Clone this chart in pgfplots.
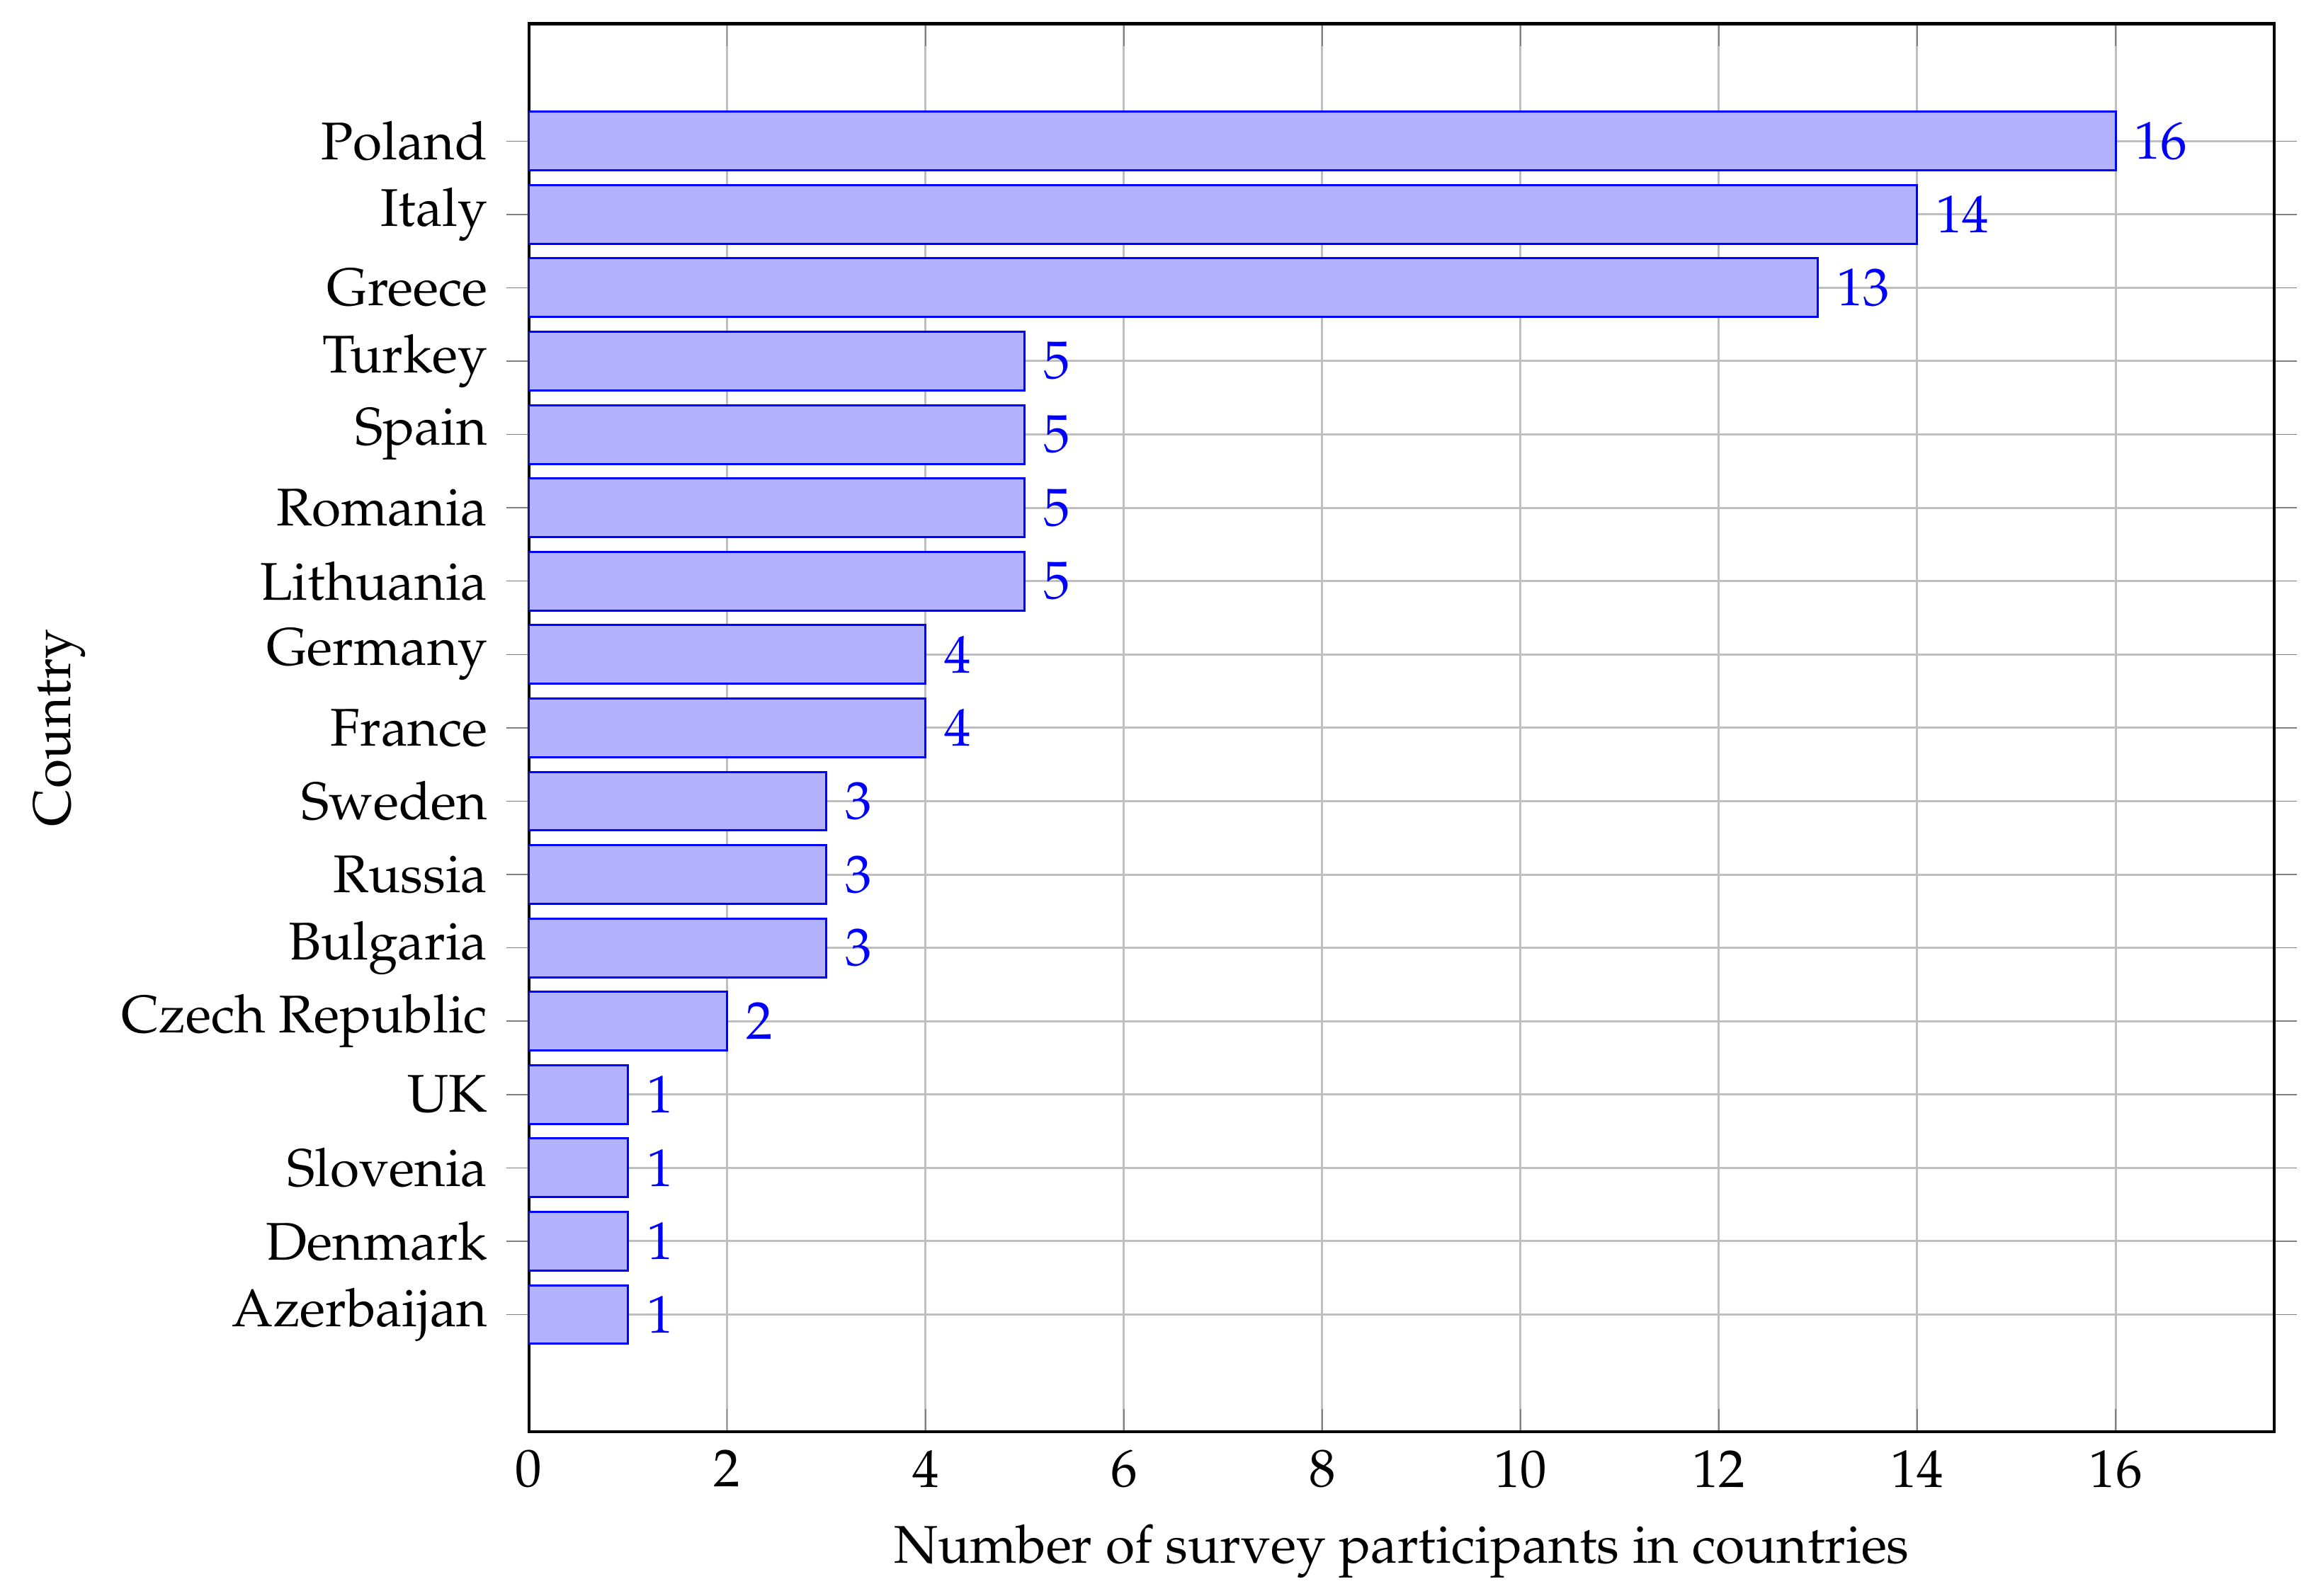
\documentclass[border=0pt]{standalone}
\usepackage[T1]{fontenc}
\usepackage{mathpazo}
\usepackage{pgfplots}
\pgfplotsset{compat=1.18}
\begin{document}
\begin{tikzpicture}
\begin{axis}[
  name=ax,
  xbar,
  scale only axis,
  width=329pt, height=265.5pt,
  xmin=0,
  enlarge x limits={upper,value=0.1},
  enlarge y limits=0.1,
  xtick={0,2,...,16},
  ytick=data,
  ytick align=outside,
  axis line style={line width=0.55pt},
  yticklabels={Azerbaijan,Denmark,Slovenia,UK,Czech Republic,Bulgaria,Russia,Sweden,France,Germany,Lithuania,Romania,Spain,Turkey,Greece,Italy,Poland},
  xmajorgrids, ymajorgrids,
  bar width=0.8,
  nodes near coords,
  nodes near coords align={horizontal},
  every node near coord/.append style={text=blue},
  xlabel={Number of survey participants in countries},
  ylabel={Country},
]
\addplot[draw=blue, fill=blue!30] coordinates {
(1,0) (1,1) (1,2) (1,3) (2,4) (3,5) (3,6) (3,7) (4,8) (4,9) (5,10) (5,11) (5,12) (5,13) (13,14) (14,15) (16,16)
};
\end{axis}
\path ([shift={(-3pt,0pt)}]current bounding box.south west) ([shift={(3.5pt,4.2pt)}]current bounding box.north east);
\end{tikzpicture}
\end{document}
